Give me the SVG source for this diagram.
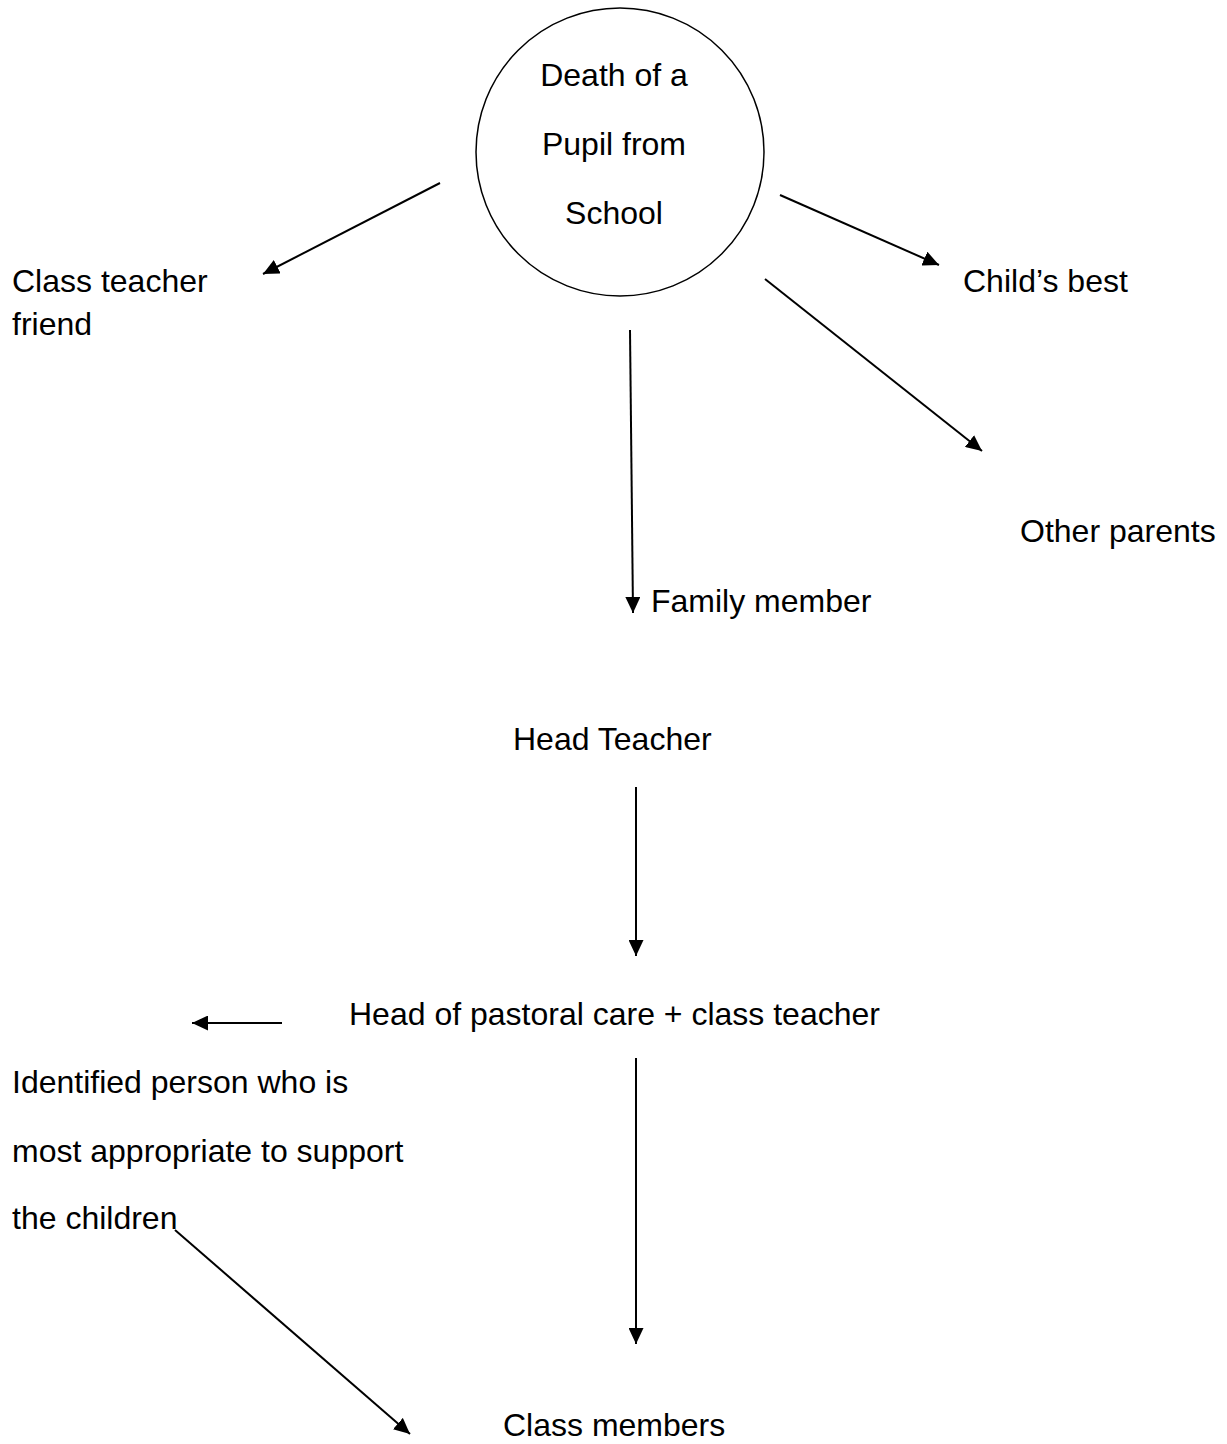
<svg xmlns="http://www.w3.org/2000/svg" width="1227" height="1444" viewBox="0 0 1227 1444">
<style>
text{font-family:"Liberation Sans",Arial,sans-serif;font-size:32px;fill:#000}
.c{text-anchor:middle}
.ln{stroke:#000;stroke-width:2;fill:none;marker-end:url(#ah)}
</style>
<defs>
<marker id="ah" markerUnits="userSpaceOnUse" markerWidth="17" markerHeight="15" refX="16" refY="7.5" orient="auto">
<path d="M0,0 L16,7.5 L0,15 z" fill="#000"/>
</marker>
</defs>
<rect width="1227" height="1444" fill="#fff"/>
<g id="death">
<circle cx="620" cy="152" r="144" fill="none" stroke="#000" stroke-width="1.5"/>
<text class="c" x="614" y="86">Death of a</text>
<text class="c" x="614" y="155">Pupil from</text>
<text class="c" x="614" y="224">School</text>
</g>
<g id="classteacher"><text x="12" y="292">Class teacher</text><text x="12" y="335">friend</text></g>
<g id="bestfriend"><text x="963" y="292">Child’s best</text></g>
<g id="otherparents"><text x="1020" y="542">Other parents</text></g>
<g id="family"><text x="651" y="612">Family member</text></g>
<g id="head"><text x="513" y="750">Head Teacher</text></g>
<g id="pastoral"><text x="349" y="1025">Head of pastoral care + class teacher</text></g>
<g id="identified"><text x="12" y="1093">Identified person who is</text><text x="12" y="1162">most appropriate to support</text><text x="12" y="1229">the children</text></g>
<g id="classmembers"><text x="503" y="1436">Class members</text></g>
<g id="connectors">
<line class="ln" x1="440" y1="183" x2="263" y2="274"/>
<line class="ln" x1="780" y1="195" x2="939" y2="265"/>
<line class="ln" x1="630" y1="330" x2="633" y2="613"/>
<line class="ln" x1="765" y1="279" x2="982" y2="451"/>
<line class="ln" x1="636" y1="787" x2="636" y2="956"/>
<line class="ln" x1="282" y1="1023" x2="192" y2="1023"/>
<line class="ln" x1="636" y1="1058" x2="636" y2="1344"/>
<line class="ln" x1="175" y1="1230" x2="410" y2="1434"/>
</g>
</svg>
